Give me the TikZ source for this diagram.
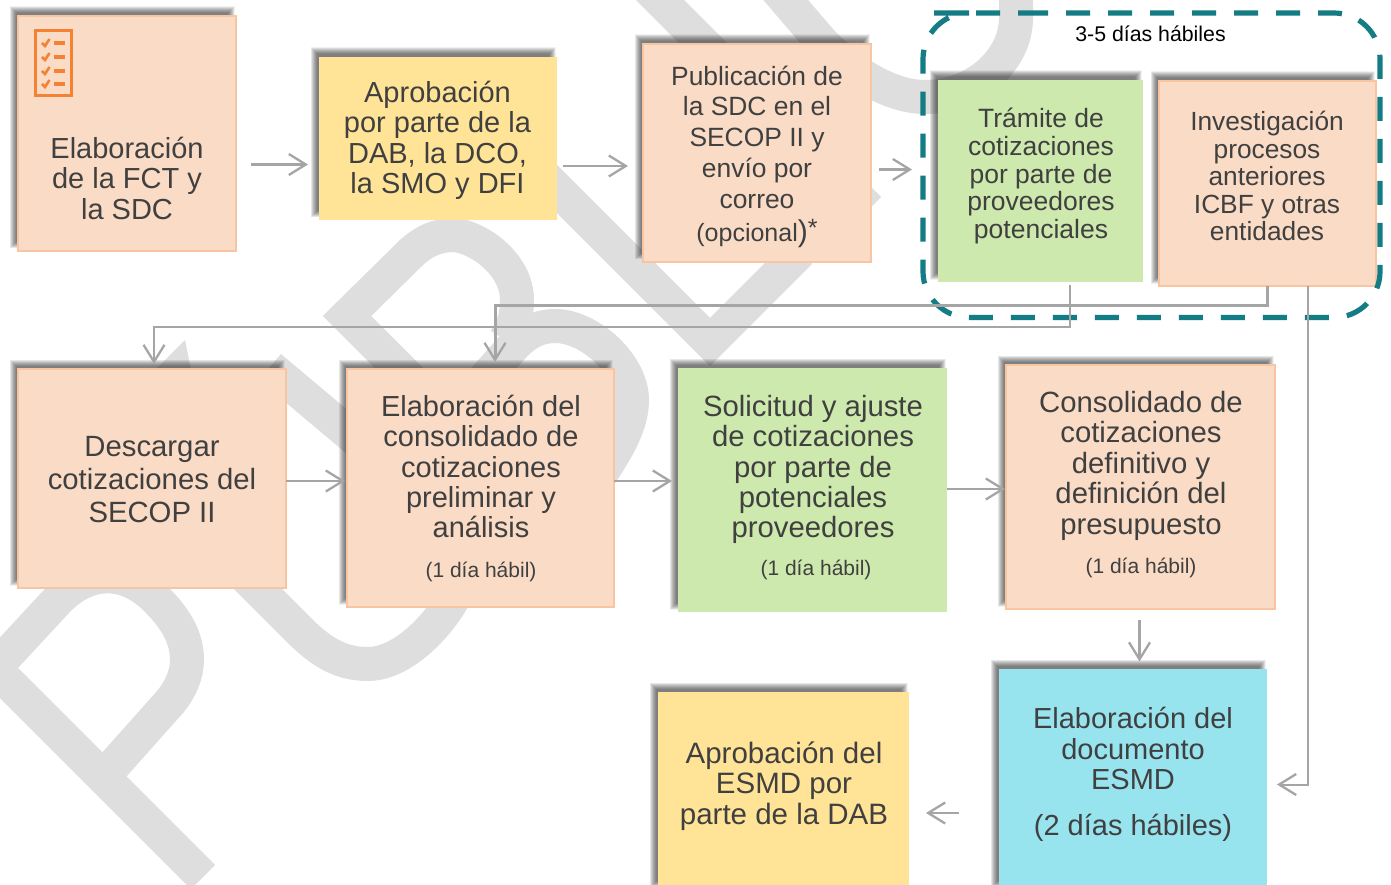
\documentclass[tikz,border=0pt]{standalone}
\usepackage{fontspec}
\setmainfont{Liberation Sans}
\usetikzlibrary{arrows.meta}
\definecolor{peachfill}{HTML}{F9DBC6}
\definecolor{peachline}{HTML}{F8C5A3}
\definecolor{yellowfill}{HTML}{FFE497}
\definecolor{greenfill}{HTML}{CEE9AD}
\definecolor{cyanfill}{HTML}{97E4EF}
\definecolor{teal}{HTML}{147C85}
\definecolor{wmark}{HTML}{DEDEDE}
\definecolor{conngray}{HTML}{A5A5A5}
\definecolor{inktext}{HTML}{404040}
\definecolor{iconorange}{HTML}{F58233}
\newcommand{\fs}[2]{\fontsize{#1}{#2}\selectfont}
\tikzset{
  x=1pt,y=-1pt,
  boxbase/.style={rectangle,inner sep=0pt,outer sep=0pt},
  peach/.style={boxbase,fill=peachfill,draw=peachline,line width=2.8pt},
  sun/.style={boxbase,fill=yellowfill},
  leaf/.style={boxbase,fill=greenfill},
  sky/.style={boxbase,fill=cyanfill},
  txt/.style={align=center,inner sep=0pt,text=inktext,yshift=-4pt,execute at begin node=\strut,execute at end node=\strut},
  note/.style={inner sep=0pt,text=inktext,yshift=-2pt,font=\fs{21}{25}},
  conn/.style={draw=conngray,line width=2.5pt,-{Straight Barb[length=17pt,width=21pt,line width=2.3pt]}},
  wm/.style={draw=wmark,line width=34pt,line join=miter,line cap=butt},
  iconline/.style={draw=iconorange,line width=3.6pt},
  softshadow/.style={fill=black!85,opacity=0.06,draw=none},
  frameline/.style={draw=teal,line width=5.2pt,dash pattern=on 24pt off 18pt,rounded corners=46pt}
}
\newcommand{\boxat}[6]{%
  \foreach \dd in {-3,-2.5,...,3.5}{\fill[softshadow] (#3-5-\dd,#4-6-\dd) rectangle (#5-5+\dd,#6-6+\dd);}
  \node[#2,minimum width=#5pt-#3pt,minimum height=#6pt-#4pt,anchor=north west] (#1) at (#3,#4) {};}
\begin{document}
\begin{tikzpicture}
\useasboundingbox (0,0) rectangle (1391,885);
\fill[white] (0,0) rectangle (1391,885);
% watermark
\begin{scope}
\clip (0,0) rectangle (1391,885);
% P
\draw[wm] (-30,644) -- (203,877);
\draw[wm] (-20,684) -- (55,603) .. controls (85,570) and (125,565) .. (160,603) .. controls (178,622) and (187,640) .. (187,660) .. controls (187,675) and (180,690) .. (170,702) -- (105,775);
% U
\draw[wm] (110,441) -- (300,631) .. controls (325,656) and (345,664) .. (368,664) .. controls (395,664) and (425,640) .. (446,610) .. controls (470,575) and (470,545) .. (440,510) -- (270,367);
% B
\draw[wm] (480,449) -- (347,316) -- (412,252) .. controls (430,236) and (445,235) .. (455,235) .. controls (480,238) and (517,265) .. (517,300) .. controls (517,318) and (512,330) .. (505,340);
\draw[wm] (470,395) -- (510,350) .. controls (525,332) and (540,326) .. (555,326) .. controls (590,326) and (632,365) .. (632,400) .. controls (632,430) and (610,460) .. (590,490);
% L
\draw[wm] (440,72) -- (710,342) -- (800,252);
% I
\draw[wm] (620,-40) -- (869,209);
% C
\draw[wm] (760,-30) -- (820,40) .. controls (850,72) and (890,97) .. (925,97) .. controls (975,97) and (1016,60) .. (1016,18) -- (1016,-10);
% stray tip
\fill[wmark] (185,340) -- (192,375) -- (150,375) -- cycle;
\end{scope}
% boxes
\boxat{a}{peach}{18}{16}{236}{251}
\boxat{b}{sun}{319}{57}{557}{220}
\boxat{c}{peach}{643}{44}{871}{262}
\boxat{d}{leaf}{938}{80}{1143}{282}
\boxat{e}{peach}{1159}{81}{1376}{286}
\boxat{f}{peach}{18}{369}{286}{588}
\boxat{g}{peach}{347}{369}{614}{607}
\boxat{h}{leaf}{678}{368}{947}{612}
\boxat{i}{peach}{1006}{365}{1275}{609}
\boxat{j}{sky}{999}{669}{1267}{890}
\boxat{k}{sun}{658}{692}{909}{890}
% icon
\draw[iconline] (35.5,30.5) rectangle (71.5,95.5);
\foreach \yy in {43,57,71,84}{
  \draw[draw=iconorange,line width=4pt] (54,\yy) -- (65,\yy);
  \draw[draw=iconorange,line width=2.6pt] (42,\yy) -- (45,\yy+3) -- (49.5,\yy-4);
}
% texts
\node[txt,font=\fs{29}{30.4}] (ta) at (127,178.5) {Elaboración\\de la FCT y\\la SDC};
\node[txt,font=\fs{29}{30.4}] (tb) at (437.5,138) {Aprobación\\por parte de la\\DAB, la DCO,\\la SMO y DFI};
\node[txt,font=\fs{26.4}{30.7}] (tc) at (757,137.5) {Publicación de\\la SDC en el\\SECOP II y\\envío por\\correo};
\node[inner sep=0pt,text=inktext,font=\fs{25}{30}] (tc2) at (757,234) {(opcional{\fs{30}{30})}\raisebox{5pt}{*}};
\node[txt,font=\fs{26.5}{27.7}] (td) at (1041,173.5) {Trámite de\\cotizaciones\\por parte de\\proveedores\\potenciales};
\node[txt,font=\fs{26.3}{27.5}] (te) at (1267,176) {Investigación\\procesos\\anteriores\\ICBF y otras\\entidades};
\node[txt,font=\fs{29.3}{33}] (tf) at (152,480) {Descargar\\cotizaciones del\\SECOP II};
\node[txt,font=\fs{29}{30.4}] (tg) at (481,467) {Elaboración del\\consolidado de\\cotizaciones\\preliminar y\\análisis};
\node[note] (tg2) at (481,570) {(1 día hábil)};
\node[txt,font=\fs{29.3}{30.3}] (th) at (813,467) {Solicitud y ajuste\\de cotizaciones\\por parte de\\potenciales\\proveedores};
\node[note] (th2) at (816,568) {(1 día hábil)};
\node[txt,font=\fs{29.3}{30.5}] (ti) at (1141,463) {Consolidado de\\cotizaciones\\definitivo y\\definición del\\presupuesto};
\node[note] (ti2) at (1141,566) {(1 día hábil)};
\node[txt,font=\fs{29}{30.4}] (tj) at (1133,749) {Elaboración del\\documento\\ESMD};
\node[inner sep=0pt,text=inktext,font=\fs{29}{30}] (tj2) at (1133,828) {(2 días hábiles)};
\node[txt,font=\fs{29.5}{30.4}] (tk) at (784,783.5) {Aprobación del\\ESMD por\\parte de la DAB};
% frame
\draw[frameline] (978,13) -- (1380,13) -- (1380,317.5) -- (923,317.5) -- (923,13) -- cycle;
\node[inner sep=0pt,font=\fs{21.3}{24},text=black] (dias) at (1150.5,34) {3-5 días hábiles};
% connectors
\draw[conn,shorten <=15pt,shorten >=11pt] (a.east |- 0,164.5) -- (b.west |- 0,164.5);
\draw[conn,shorten <=6pt,shorten >=15pt] (b.east |- 0,166) -- (c.west |- 0,166);
\draw[conn,shorten <=8pt,shorten >=26pt] (c.east |- 0,169.5) -- (d.west |- 0,169.5);
\draw[conn,shorten >=2pt] (f.east |- 0,481) -- (g.west |- 0,481);
\draw[conn,shorten >=6pt] (g.east |- 0,481) -- (h.west |- 0,481);
\draw[conn,shorten >=1pt] (h.east |- 0,489) -- (i.west |- 0,489);
\draw[conn,shorten <=11pt,shorten >=7.5pt] (i.south -| 1139.5,0) -- (j.north -| 1139.5,0);
\draw[conn,shorten <=40pt,shorten >=17pt] (j.west |- 0,813) -- (k.east |- 0,813);
\draw[conn,line width=2pt,shorten <=3pt,shorten >=5pt] (d.south -| 1070,0) -- (1070,327) -- (154,327) -- (f.north -| 154,0);
\draw[conn,line width=3pt,shorten >=7pt] (e.south -| 1267,0) -- (1267,305) -- (495,305) -- (g.north -| 495,0);
\draw[conn,line width=2pt,shorten >=10pt] (e.south -| 1308,0) -- (1308,784.5) -- (j.east |- 0,784.5);
\end{tikzpicture}
\end{document}
